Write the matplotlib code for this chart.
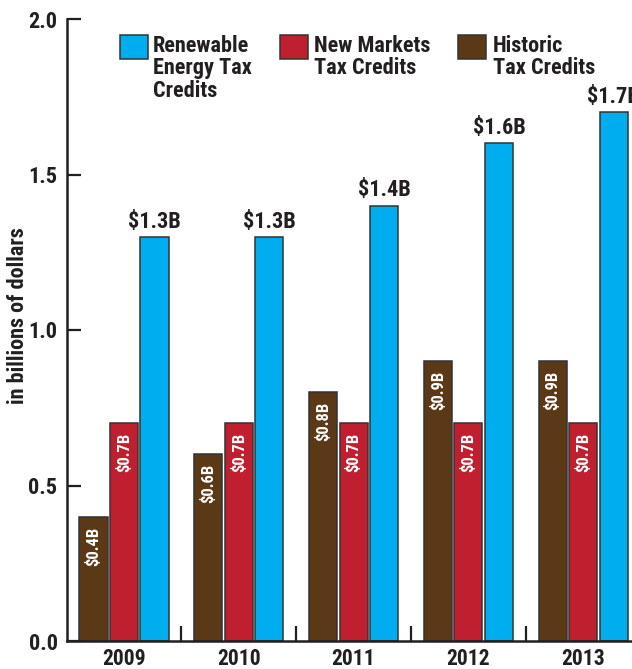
import matplotlib
matplotlib.use("Agg")
import matplotlib.pyplot as plt
from matplotlib import font_manager as fm
from matplotlib.patches import Rectangle
import numpy as np

# ---- data ----
years = ["2009", "2010", "2011", "2012", "2013"]
historic = [0.4, 0.6, 0.8, 0.9, 0.9]
new_markets = [0.7, 0.7, 0.7, 0.7, 0.7]
renewable = [1.3, 1.3, 1.4, 1.6, 1.7]
historic_labels = ["$0.4B", "$0.6B", "$0.8B", "$0.9B", "$0.9B"]
nm_labels = ["$0.7B", "$0.7B", "$0.7B", "$0.7B", "$0.7B"]
renew_labels = ["$1.3B", "$1.3B", "$1.4B", "$1.6B", "$1.7B"]
legend_labels = ["Renewable\nEnergy Tax\nCredits", "New Markets\nTax Credits", "Historic\nTax Credits"]
yticks = [0.0, 0.5, 1.0, 1.5, 2.0]
ylabel = "in billions of dollars"

# ---- style ----
def pick_font():
    for f in ["Liberation Sans Narrow", "Roboto Condensed", "Liberation Sans"]:
        try:
            fm.findfont(fm.FontProperties(family=f), fallback_to_default=False)
            return f
        except Exception:
            pass
    return "DejaVu Sans"

FONT = pick_font()
plt.rcParams['font.family'] = [FONT, 'DejaVu Sans']
plt.rcParams['font.weight'] = 'bold'

BLUE = "#00AEEF"
RED = "#C01F30"
BROWN = "#5C3916"
EDGE = "#333333"
INK = "#231F20"

W, H = 632, 669
fig = plt.figure(figsize=(W / 100, H / 100), dpi=100)
ax = fig.add_axes([66.6 / W, (H - 641) / H, 574 / W, 622 / H])

x = np.arange(len(years))
step = 0.266
bw = 0.245
kw = dict(edgecolor=EDGE, linewidth=1.1)
b_h = ax.bar(x - step, historic, bw, color=BROWN, **kw)
b_n = ax.bar(x, new_markets, bw, color=RED, **kw)
b_r = ax.bar(x + step, renewable, bw, color=BLUE, **kw)

for bars, labs in ((b_h, historic_labels), (b_n, nm_labels)):
    for b, lab in zip(bars, labs):
        ax.annotate(lab, (b.get_x() + b.get_width() / 2, b.get_height()),
                    xytext=(0, -7), textcoords="offset points",
                    rotation=90, ha="center", va="top", color="white",
                    fontsize=12, fontweight="bold", annotation_clip=False)
for b, lab in zip(b_r, renew_labels):
    ax.annotate(lab, (b.get_x() + b.get_width() / 2, b.get_height()),
                xytext=(0, 3), textcoords="offset points",
                ha="center", va="bottom", color=INK,
                fontsize=16, fontweight="bold", annotation_clip=False)

ax.set_xlim(-0.5, 4.5)
ax.set_ylim(0, 2.0)
ax.set_yticks(yticks)
ax.set_yticklabels([f"{v:.1f}" for v in yticks])
ax.set_xticks(x)
ax.set_xticklabels(years)
ax.set_xticks(x[:-1] + 0.5, minor=True)
ax.tick_params(axis="x", which="major", length=0, pad=5, labelsize=15.5, labelcolor=INK)
ax.tick_params(axis="x", which="minor", direction="in", length=11, width=1.6, color=INK)
ax.tick_params(axis="y", direction="in", length=10, width=1.6, color=INK,
               pad=6.5, labelsize=16, labelcolor=INK)
for s in ("top", "right"):
    ax.spines[s].set_visible(False)
for s in ("left", "bottom"):
    ax.spines[s].set_linewidth(1.8)
    ax.spines[s].set_color(INK)

fig.text(18 / W, 1 - 316 / H, ylabel, rotation=90, ha="center", va="center",
         fontsize=16, fontweight="bold", color=INK)

# ---- legend (manual) ----
items = [(BLUE, 120, 153), (RED, 280, 314), (BROWN, 458, 493)]
for (col, px, tx), lab in zip(items, legend_labels):
    fig.patches.append(Rectangle((px / W, 1 - 59 / H), 28 / W, 24 / H,
                                 transform=fig.transFigure, facecolor=col,
                                 edgecolor=EDGE, linewidth=1.1))
    fig.text(tx / W, 1 - 35 / H, lab, ha="left", va="top", fontsize=16,
             fontweight="bold", color=INK, linespacing=1.02)

fig.savefig("out.png", dpi=100)
